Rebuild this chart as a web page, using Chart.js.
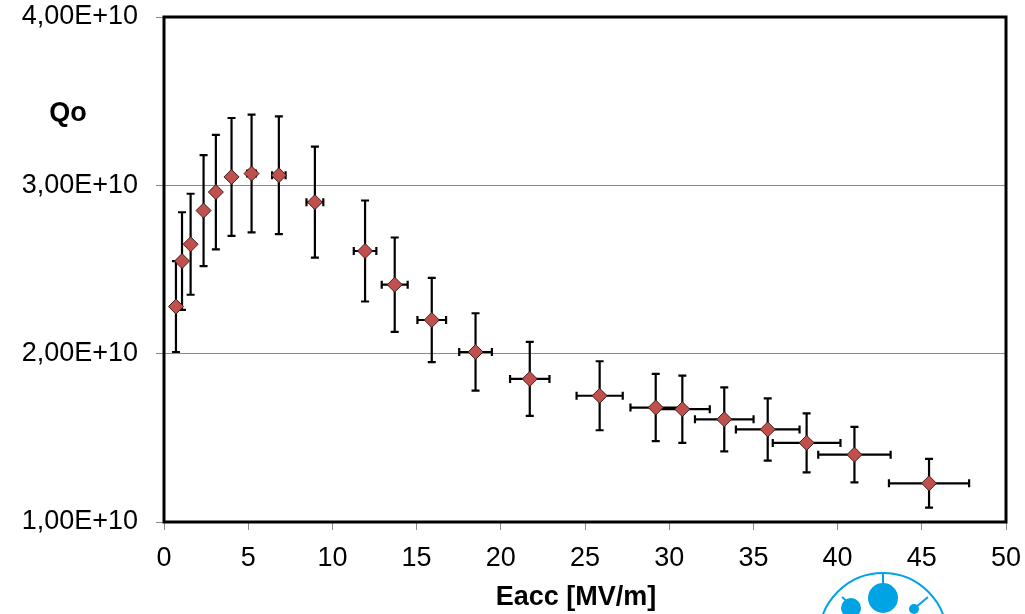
<!DOCTYPE html>
<html>
<head>
<meta charset="utf-8">
<script src="https://cdn.jsdelivr.net/npm/chart.js@4/dist/chart.umd.min.js"></script>
<style>
  html, body { margin: 0; padding: 0; background: #fff; }
  #wrap { width: 1025px; height: 614px; }
</style>
</head>
<body>
<div id="wrap"><canvas id="myChart" width="1025" height="614"></canvas></div>
<script>
// Eacc [MV/m] and Qo values
const eacc = [0.71, 1.07, 1.58, 2.35, 3.08, 4.01, 5.20, 6.82, 8.96, 11.94, 13.70,
              15.90, 18.50, 21.72, 25.87, 29.20, 30.78, 33.27, 35.85, 38.16, 41.00, 45.43];
const qo = [2.28e10, 2.55e10, 2.65e10, 2.85e10, 2.96e10, 3.05e10, 3.07e10, 3.06e10, 2.90e10,
            2.61e10, 2.41e10, 2.20e10, 2.01e10, 1.85e10, 1.75e10, 1.68e10, 1.67e10, 1.61e10,
            1.55e10, 1.47e10, 1.40e10, 1.23e10];
// error bars (+/-)
const qoErr = [0.27e10, 0.29e10, 0.30e10, 0.33e10, 0.34e10, 0.35e10, 0.35e10, 0.35e10, 0.33e10,
               0.30e10, 0.28e10, 0.25e10, 0.23e10, 0.22e10, 0.205e10, 0.20e10, 0.20e10, 0.19e10,
               0.185e10, 0.175e10, 0.165e10, 0.145e10];
const eaccErr = [0.03, 0.05, 0.08, 0.12, 0.15, 0.20, 0.26, 0.40, 0.50, 0.67, 0.77,
                 0.85, 0.97, 1.17, 1.37, 1.50, 1.63, 1.74, 1.89, 2.01, 2.15, 2.38];

const xTitle = 'Eacc [MV/m]';
const yTitle = 'Qo';

const points = eacc.map((x, i) => ({ x: x, y: qo[i] }));

// draws error bars under the markers, frame, labels and logo
const extras = {
  id: 'extras',
  beforeDatasetsDraw(chart) {
    const ctx = chart.ctx;
    const xs = chart.scales.x, ys = chart.scales.y;
    ctx.save();
    ctx.strokeStyle = '#000';
    ctx.lineWidth = 2.2;
    const cap = 4;
    points.forEach((p, i) => {
      const px = xs.getPixelForValue(p.x);
      const py = ys.getPixelForValue(p.y);
      const y1 = ys.getPixelForValue(p.y + qoErr[i]);
      const y2 = ys.getPixelForValue(p.y - qoErr[i]);
      const x1 = xs.getPixelForValue(p.x - eaccErr[i]);
      const x2 = xs.getPixelForValue(p.x + eaccErr[i]);
      ctx.beginPath();
      ctx.moveTo(px, y1); ctx.lineTo(px, y2);
      ctx.moveTo(px - cap, y1); ctx.lineTo(px + cap, y1);
      ctx.moveTo(px - cap, y2); ctx.lineTo(px + cap, y2);
      ctx.moveTo(x1, py); ctx.lineTo(x2, py);
      ctx.moveTo(x1, py - cap); ctx.lineTo(x1, py + cap);
      ctx.moveTo(x2, py - cap); ctx.lineTo(x2, py + cap);
      ctx.stroke();
    });
    ctx.restore();
  },
  afterDraw(chart) {
    const ctx = chart.ctx;
    const a = chart.chartArea;
    ctx.save();
    // plot frame
    ctx.strokeStyle = '#000';
    ctx.lineWidth = 3;
    ctx.strokeRect(a.left, a.top, a.right - a.left, a.bottom - a.top);
    // axis titles
    ctx.fillStyle = '#000';
    ctx.textAlign = 'center';
    ctx.textBaseline = 'middle';
    ctx.font = 'bold 27px "Liberation Sans", Arial, sans-serif';
    ctx.fillText(yTitle, 68, 114);
    ctx.fillText(xTitle, 576, 598);
    // logo (bottom right)
    ctx.strokeStyle = '#00a3e4';
    ctx.fillStyle = '#00a3e4';
    ctx.lineWidth = 2;
    ctx.beginPath();
    ctx.arc(883, 637, 64, 0, Math.PI * 2);
    ctx.stroke();
    ctx.beginPath();
    ctx.moveTo(883, 573); ctx.lineTo(883, 585);
    ctx.moveTo(842, 597); ctx.lineTo(849, 603);
    ctx.moveTo(915, 608); ctx.lineTo(928, 597);
    ctx.stroke();
    ctx.beginPath(); ctx.arc(883, 598, 15, 0, Math.PI * 2); ctx.fill();
    ctx.beginPath(); ctx.arc(851, 608, 10, 0, Math.PI * 2); ctx.fill();
    ctx.beginPath(); ctx.arc(914, 609, 5, 0, Math.PI * 2); ctx.fill();
    ctx.restore();
  }
};

const tickFont = { family: '"Liberation Sans", Arial, sans-serif', size: 27 };

const myChart = new Chart(document.getElementById('myChart'), {
  type: 'scatter',
  data: {
    datasets: [{
      label: 'Qo',
      data: points,
      pointStyle: 'rectRot',
      pointRadius: 7.5,
      pointHoverRadius: 7.5,
      backgroundColor: '#c0504d',
      borderColor: '#3c1d1c',
      borderWidth: 1
    }]
  },
  options: {
    responsive: false,
    animation: false,
    layout: { padding: { top: 17, right: 19, left: 0, bottom: 0 } },
    plugins: {
      legend: { display: false },
      tooltip: { enabled: false }
    },
    scales: {
      x: {
        type: 'linear',
        min: 0,
        max: 50,
        afterFit: s => { s.height = 92; s.paddingLeft = 0; s.paddingRight = 0; },
        ticks: { stepSize: 5, color: '#000', font: tickFont, padding: 12, maxRotation: 0 },
        grid: { drawOnChartArea: false, drawTicks: true, tickLength: 8, tickColor: '#888' },
        border: { display: false }
      },
      y: {
        type: 'linear',
        min: 1e10,
        max: 4e10,
        afterFit: s => { s.width = 164; s.paddingTop = 0; s.paddingBottom = 0; },
        ticks: {
          stepSize: 1e10,
          color: '#000',
          font: tickFont,
          padding: 18,
          callback: v => (v / 1e10).toFixed(2).replace('.', ',') + 'E+10'
        },
        grid: { color: '#8a8a8a', lineWidth: 1, tickLength: 8, tickColor: '#888' },
        border: { display: false }
      }
    }
  },
  plugins: [extras]
});
</script>
</body>
</html>
